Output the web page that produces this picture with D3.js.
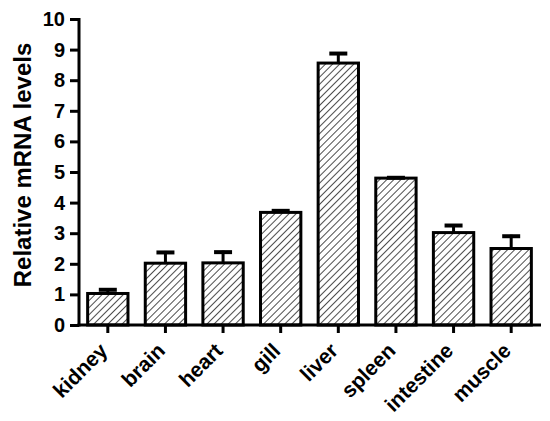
<!DOCTYPE html>
<html><head><meta charset="utf-8">
<script src="https://cdn.jsdelivr.net/npm/d3@7"></script>
<style>body{margin:0;background:#fff}</style>
</head><body>
<svg id="c" width="550" height="421"></svg>
<script>
const categories = ["kidney","brain","heart","gill","liver","spleen","intestine","muscle"];
const values = [1.03, 2.02, 2.03, 3.68, 8.56, 4.8, 3.02, 2.5];
const errors = [0.17, 0.4, 0.4, 0.1, 0.36, 0.06, 0.28, 0.45];
const yTicks = [0,1,2,3,4,5,6,7,8,9,10];

const svg = d3.select("#c");
const font = "'Liberation Sans', Arial, sans-serif";
const x = d3.scaleBand().domain(categories).range([79, 540]).paddingInner(0.3).paddingOuter(0.15);
const y = d3.scaleLinear().domain([0, 10]).range([325, 19]);

const defs = svg.append("defs");
const pat = defs.append("pattern").attr("id","hatch").attr("patternUnits","userSpaceOnUse")
  .attr("width",5).attr("height",5).attr("patternTransform","rotate(45)");
pat.append("rect").attr("width",5).attr("height",5).attr("fill","#fff");
pat.append("line").attr("x1",0).attr("y1",0).attr("x2",0).attr("y2",5)
  .attr("stroke","#000").attr("stroke-width",1.4);

// bars
svg.selectAll("rect.bar").data(categories).enter().append("rect")
  .attr("class","bar")
  .attr("x", d => x(d)).attr("width", x.bandwidth())
  .attr("y", (d,i) => y(values[i])).attr("height", (d,i) => y(0) - y(values[i]))
  .attr("fill","url(#hatch)").attr("stroke","#000").attr("stroke-width",3);

// error bars
const eg = svg.append("g");
categories.forEach((c,i) => {
  const cx = x(c) + x.bandwidth()/2;
  eg.append("line").attr("x1",cx).attr("x2",cx).attr("y1",y(values[i])).attr("y2",y(values[i]+errors[i]))
    .attr("stroke","#000").attr("stroke-width",3);
  eg.append("line").attr("x1",cx-9).attr("x2",cx+9).attr("y1",y(values[i]+errors[i])+1.5).attr("y2",y(values[i]+errors[i])+1.5)
    .attr("stroke","#000").attr("stroke-width",4);
});

// y axis
const ya = svg.append("g").attr("transform","translate(79,0)")
  .call(d3.axisLeft(y).tickValues(yTicks).tickSize(9).tickPadding(5).tickSizeOuter(0));
ya.select(".domain").attr("stroke-width",3).attr("d","M0,"+(y(10)-1)+"V"+(y(0)+1.5));
ya.selectAll(".tick line").attr("stroke-width",3);
ya.selectAll("text").attr("font-family",font).attr("font-weight","bold").attr("font-size",20).attr("fill","#000");

// x axis
const xa = svg.append("g").attr("transform","translate(0,325)")
  .call(d3.axisBottom(x).tickSize(8).tickSizeOuter(0).tickFormat(""));
xa.select(".domain").attr("stroke-width",3).attr("d","M77.5,0H541");
xa.selectAll(".tick line").attr("stroke-width",3);

// x labels
svg.append("g").selectAll("text").data(categories).enter().append("text")
  .attr("transform", d => `translate(${x(d)+x.bandwidth()/2+1},${352}) rotate(-45)`)
  .attr("text-anchor","end")
  .attr("font-family",font).attr("font-weight","bold").attr("font-size",21)
  .text(d => d);

// y title
svg.append("text").attr("transform","translate(31,165) rotate(-90)")
  .attr("text-anchor","middle").attr("font-family",font).attr("font-weight","bold").attr("font-size",24)
  .text("Relative mRNA levels");
</script>
</body></html>
